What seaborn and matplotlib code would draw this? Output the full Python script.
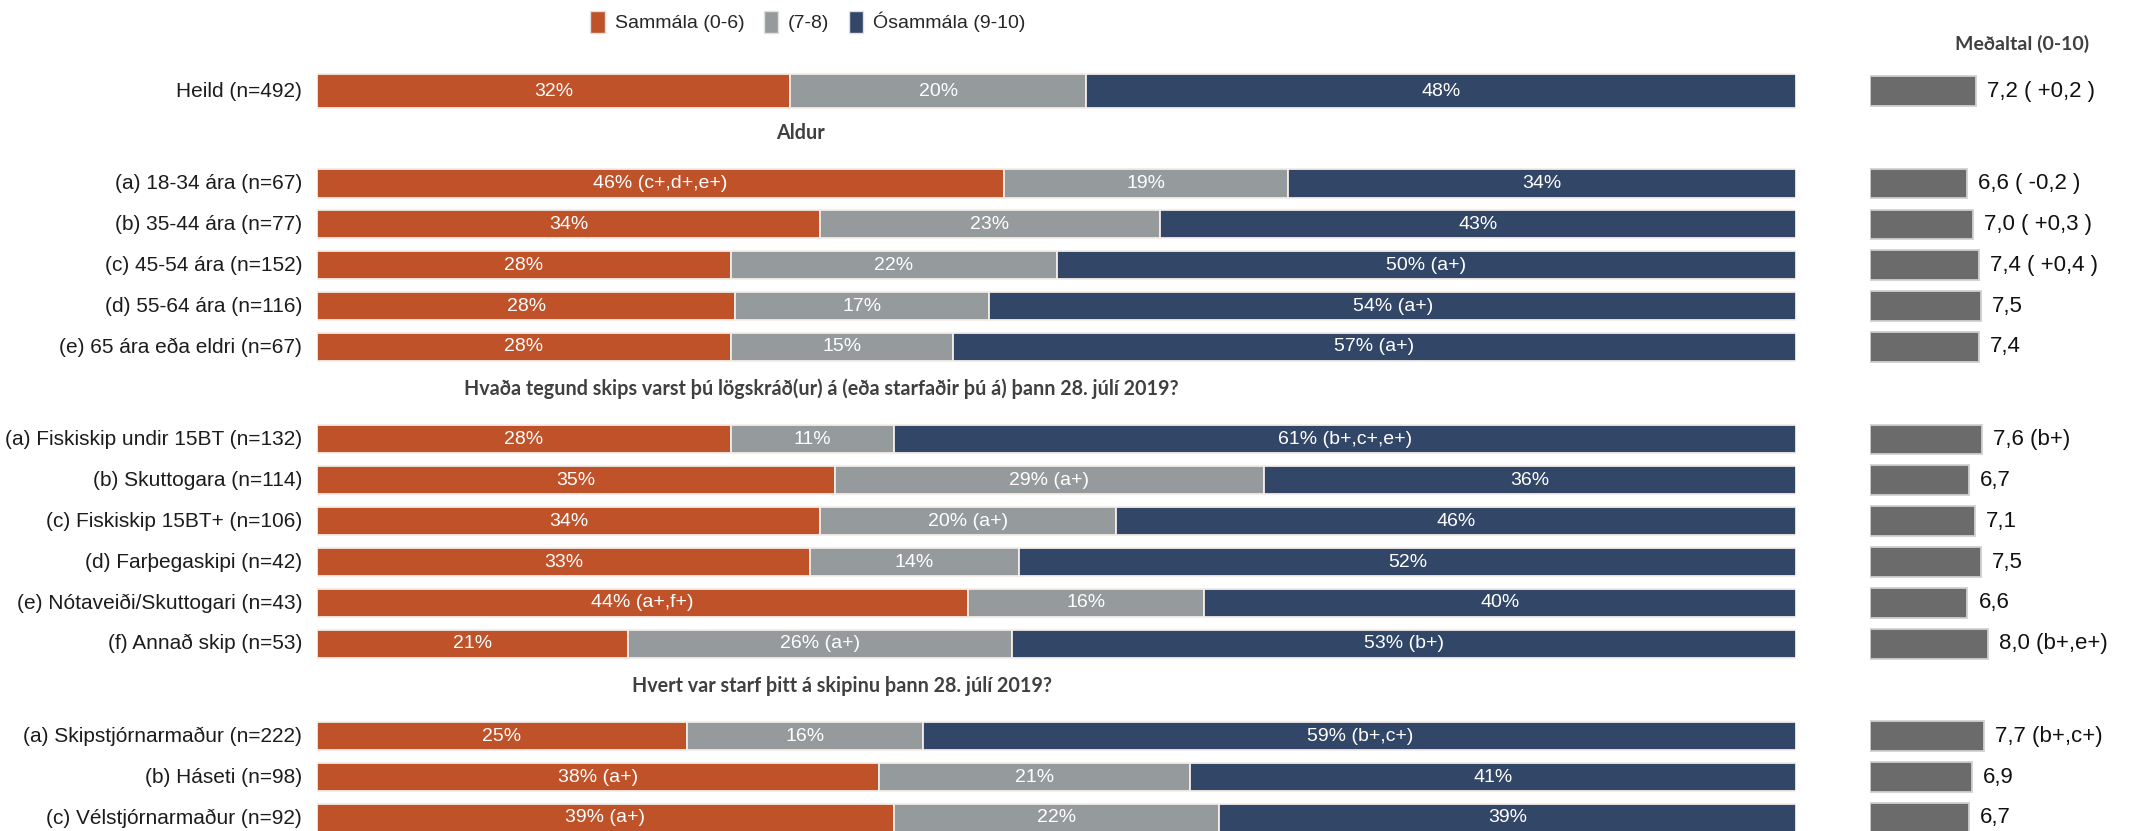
import numpy as np
import pandas as pd
import seaborn as sns
from matplotlib import pyplot as plt
from matplotlib.patches import Patch

sns.set_theme(style="white")
plt.rcParams['font.family'] = ['Liberation Sans', 'DejaVu Sans']

# ---- data ----
headers = ['Aldur',
           'Hvaða tegund skips varst þú lögskráð(ur) á (eða starfaðir þú á) þann 28. júlí 2019?',
           'Hvert var starf þitt á skipinu þann 28. júlí 2019?']

total_label = 'Heild (n=492)'
total_pct = [32, 20, 48]
total_txt = ['32%', '20%', '48%']
total_mean = 7.2
total_mean_txt = '7,2 ( +0,2 )'

age_labels = ['(a) 18-34 ára (n=67)', '(b) 35-44 ára (n=77)', '(c) 45-54 ára (n=152)',
              '(d) 55-64 ára (n=116)', '(e) 65 ára eða eldri (n=67)']
age_agree = [46, 34, 28, 28, 28]
age_mid = [19, 23, 22, 17, 15]
age_disagree = [34, 43, 50, 54, 57]
age_txt = [['46% (c+,d+,e+)', '19%', '34%'], ['34%', '23%', '43%'], ['28%', '22%', '50% (a+)'],
           ['28%', '17%', '54% (a+)'], ['28%', '15%', '57% (a+)']]
age_mean = [6.6, 7.0, 7.4, 7.5, 7.4]
age_mean_txt = ['6,6 ( -0,2 )', '7,0 ( +0,3 )', '7,4 ( +0,4 )', '7,5', '7,4']

ship_labels = ['(a) Fiskiskip undir 15BT (n=132)', '(b) Skuttogara (n=114)', '(c) Fiskiskip 15BT+ (n=106)',
               '(d) Farþegaskipi (n=42)', '(e) Nótaveiði/Skuttogari (n=43)', '(f) Annað skip (n=53)']
ship_agree = [28, 35, 34, 33, 44, 21]
ship_mid = [11, 29, 20, 14, 16, 26]
ship_disagree = [61, 36, 46, 52, 40, 53]
ship_txt = [['28%', '11%', '61% (b+,c+,e+)'], ['35%', '29% (a+)', '36%'], ['34%', '20% (a+)', '46%'],
            ['33%', '14%', '52%'], ['44% (a+,f+)', '16%', '40%'], ['21%', '26% (a+)', '53% (b+)']]
ship_mean = [7.6, 6.7, 7.1, 7.5, 6.6, 8.0]
ship_mean_txt = ['7,6 (b+)', '6,7', '7,1', '7,5', '6,6', '8,0 (b+,e+)']

job_labels = ['(a) Skipstjórnarmaður (n=222)', '(b) Háseti (n=98)', '(c) Vélstjórnarmaður (n=92)']
job_agree = [25, 38, 39]
job_mid = [16, 21, 22]
job_disagree = [59, 41, 39]
job_txt = [['25%', '16%', '59% (b+,c+)'], ['38% (a+)', '21%', '41%'], ['39% (a+)', '22%', '39%']]
job_mean = [7.7, 6.9, 6.7]
job_mean_txt = ['7,7 (b+,c+)', '6,9', '6,7']

legend_labels = ['Sammála (0-6)', '(7-8)', 'Ósammála (9-10)']
colors = ['#C0522A', '#959B9C', '#324667']
mean_color = '#6B6B6B'

# ---- build one table with row positions ----
rows = [dict(label=total_label, a=total_pct[0], m=total_pct[1], d=total_pct[2],
             txt=total_txt, mean=total_mean, mean_txt=total_mean_txt, pos=0.0, h=0.84)]
groups = [(age_labels, age_agree, age_mid, age_disagree, age_txt, age_mean, age_mean_txt),
          (ship_labels, ship_agree, ship_mid, ship_disagree, ship_txt, ship_mean, ship_mean_txt),
          (job_labels, job_agree, job_mid, job_disagree, job_txt, job_mean, job_mean_txt)]
header_pos = []
last = 0.0
for g in groups:
    start = last + 2.28
    header_pos.append(start - 1.25)
    for i in range(len(g[0])):
        rows.append(dict(label=g[0][i], a=g[1][i], m=g[2][i], d=g[3][i], txt=g[4][i],
                         mean=g[5][i], mean_txt=g[6][i], pos=start + i * 1.01, h=0.7))
    last = start + (len(g[0]) - 1) * 1.01
df = pd.DataFrame(rows)

W, H = 2141, 831
unit = 40.5          # px per row
y_top = -91 / unit
y_bot = (H - 91) / unit
header_x = [32.7, 34.1, 35.5]

fig = plt.figure(figsize=(W / 100, H / 100), dpi=100)
ax = fig.add_axes([317 / W, 0, 1479 / W, 1])
axm = fig.add_axes([1870 / W, 0, (W - 1870) / W, 1])

# stacked bars (scaled so every row fills the full width)
tot = df[['a', 'm', 'd']].sum(axis=1)
segs = np.column_stack([df['a'], df['m'], df['d']]) / tot.values[:, None] * 100
left = np.zeros(len(df))
for k in range(3):
    ax.barh(df['pos'], segs[:, k], left=left, height=df['h'], color=colors[k],
            edgecolor='#f4ece8', linewidth=1.3)
    for i, r in df.iterrows():
        ax.text(left[i] + segs[i, k] / 2, r['pos'], r['txt'][k], ha='center', va='center',
                color='white', fontsize=14)
    left = left + segs[:, k]

for _, r in df.iterrows():
    ax.text(-1.0, r['pos'], r['label'], ha='right', va='center', fontsize=15, color='#1c1c1c')

for t, p, x in zip(headers, header_pos, header_x):
    ax.text(x, p, t, ha='center', va='center', fontsize=14.2, fontweight='bold',
            family=['Lato', 'DejaVu Sans'], color='#404040')

ax.set_xlim(0, 100)
ax.set_ylim(y_bot, y_top)
ax.axis('off')

# mean bars
sns.barplot(data=df, x='mean', y='pos', orient='y', native_scale=True, width=0.72,
            color=mean_color, saturation=1, edgecolor='#d0d0d0', linewidth=1.3,
            errorbar=None, ax=axm)
for _, r in df.iterrows():
    axm.annotate(r['mean_txt'], (r['mean'], r['pos']), xytext=(8, 0), textcoords='offset points',
                 ha='left', va='center', fontsize=16, color='#111111')
axm.set_xlim(0, (W - 1870) / 14.75)
axm.set_ylim(y_bot, y_top)
axm.axis('off')

fig.text(2022 / W, 1 - 44 / H, 'Meðaltal (0-10)', ha='center', va='center', fontsize=14,
         fontweight='bold', family=['Lato', 'DejaVu Sans'], color='#404040')

handles = [Patch(facecolor=c, edgecolor='#e0e0e0') for c in colors]
fig.legend(handles, legend_labels, loc='center', bbox_to_anchor=(808 / W, 1 - 22 / H), ncol=3,
           frameon=False, fontsize=14, handlelength=0.75, handleheight=1.4,
           handletextpad=0.5, columnspacing=1.0)

fig.savefig('out.png', dpi=100)
